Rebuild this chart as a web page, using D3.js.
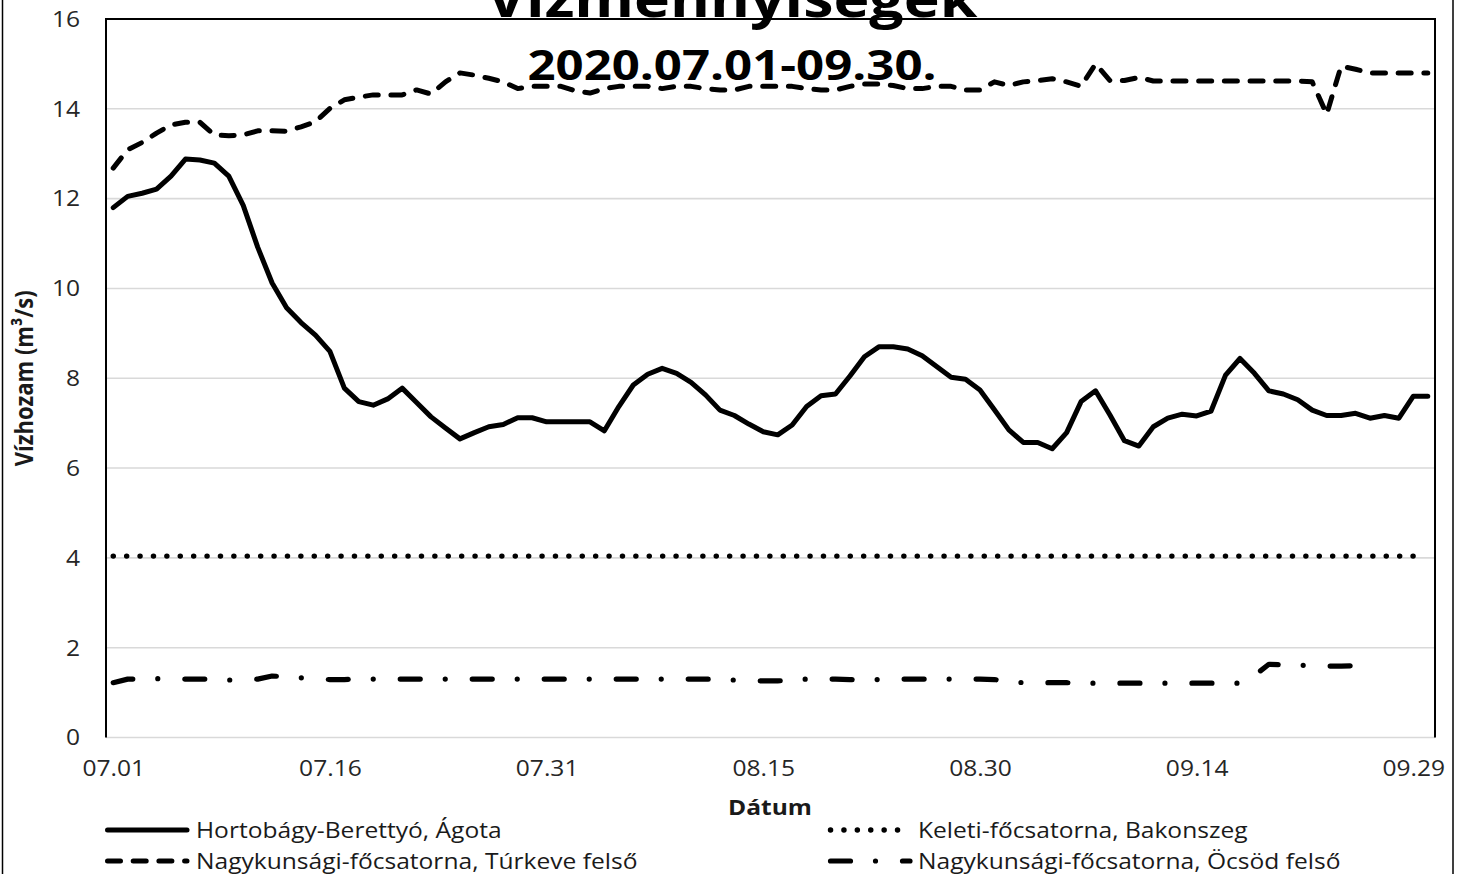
<!DOCTYPE html>
<html lang="hu">
<head>
<meta charset="UTF-8">
<script src="https://d3js.org/d3.v7.min.js"></script>
<style>
  body { margin: 0; background: #fff; }
  svg text { font-family: "Open Sans", sans-serif; }
</style>
</head>
<body>
<div id="chart"></div>
<script>
// ---- data ----
var tickLabels = ["07.01", "07.16", "07.31", "08.15", "08.30", "09.14", "09.29"];
var yTicks = [0, 2, 4, 6, 8, 10, 12, 14, 16];
var seriesNames = [
  "Hortobágy-Berettyó, Ágota",
  "Keleti-főcsatorna, Bakonszeg",
  "Nagykunsági-főcsatorna, Túrkeve felső",
  "Nagykunsági-főcsatorna, Öcsöd felső"
];

// Hortobágy-Berettyó, Ágota
var agota = [11.8, 12.05, 12.12, 12.21, 12.5, 12.88, 12.86, 12.79, 12.5, 11.85,
  10.92, 10.12, 9.57, 9.24, 8.96, 8.6, 7.78, 7.48, 7.4, 7.54,
  7.78, 7.46, 7.14, 6.89, 6.65, 6.79, 6.92, 6.97, 7.12, 7.12,
  7.03, 7.03, 7.03, 7.03, 6.83, 7.37, 7.85, 8.09, 8.22, 8.11,
  7.91, 7.63, 7.29, 7.17, 6.98, 6.81, 6.74, 6.96, 7.37, 7.61,
  7.65, 8.05, 8.48, 8.7, 8.7, 8.65, 8.5, 8.26, 8.02, 7.98,
  7.74, 7.3, 6.85, 6.57, 6.57, 6.43, 6.79, 7.48, 7.72, 7.18,
  6.61, 6.49, 6.92, 7.11, 7.2, 7.16, 7.27, 8.07, 8.44, 8.11,
  7.72, 7.65, 7.52, 7.29, 7.17, 7.17, 7.22, 7.11, 7.17, 7.11,
  7.6, 7.6];

// Keleti-főcsatorna, Bakonszeg
var bakonszeg = [4.04, 4.04, 4.04, 4.04, 4.04, 4.04, 4.04, 4.04, 4.04, 4.04,
  4.04, 4.04, 4.04, 4.04, 4.04, 4.04, 4.04, 4.04, 4.04, 4.04,
  4.04, 4.04, 4.04, 4.04, 4.04, 4.04, 4.04, 4.04, 4.04, 4.04,
  4.04, 4.04, 4.04, 4.04, 4.04, 4.04, 4.04, 4.04, 4.04, 4.04,
  4.04, 4.04, 4.04, 4.04, 4.04, 4.04, 4.04, 4.04, 4.04, 4.04,
  4.04, 4.04, 4.04, 4.04, 4.04, 4.04, 4.04, 4.04, 4.04, 4.04,
  4.04, 4.04, 4.04, 4.04, 4.04, 4.04, 4.04, 4.04, 4.04, 4.04,
  4.04, 4.04, 4.04, 4.04, 4.04, 4.04, 4.04, 4.04, 4.04, 4.04,
  4.04, 4.04, 4.04, 4.04, 4.04, 4.04, 4.04, 4.04, 4.04, 4.04,
  4.04, null];

// Nagykunsági-főcsatorna, Túrkeve felső
var turkeve = [12.68, 13.09, 13.25, 13.46, 13.64, 13.7, 13.7, 13.42, 13.4, 13.42,
  13.51, 13.51, 13.5, 13.6, 13.71, 14.01, 14.2, 14.26, 14.31, 14.31,
  14.31, 14.42, 14.33, 14.6, 14.8, 14.75, 14.68, 14.6, 14.45, 14.5,
  14.5, 14.5, 14.4, 14.35, 14.45, 14.5, 14.5, 14.5, 14.45, 14.5,
  14.5, 14.45, 14.42, 14.42, 14.5, 14.5, 14.5, 14.5, 14.45, 14.42,
  14.42, 14.5, 14.55, 14.55, 14.52, 14.45, 14.45, 14.5, 14.5, 14.42,
  14.42, 14.6, 14.52, 14.6, 14.63, 14.67, 14.6, 14.5, 15.0, 14.63,
  14.63, 14.7, 14.62, 14.62, 14.62, 14.62, 14.62, 14.62, 14.62, 14.62,
  14.62, 14.62, 14.62, 14.6, 13.88, 14.95, 14.88, 14.8, 14.8, 14.8,
  14.8, 14.8];

// Nagykunsági-főcsatorna, Öcsöd felső
var ocsod = [1.22, 1.3, 1.3, 1.31, 1.31, 1.3, 1.3, 1.3, 1.28, 1.28,
  1.3, 1.37, 1.35, 1.33, 1.3, 1.29, 1.29, 1.3, 1.3, 1.3,
  1.3, 1.3, 1.3, 1.3, 1.3, 1.3, 1.3, 1.3, 1.3, 1.3,
  1.3, 1.3, 1.3, 1.3, 1.3, 1.3, 1.3, 1.3, 1.3, 1.3,
  1.3, 1.3, 1.29, 1.28, 1.27, 1.26, 1.26, 1.28, 1.3, 1.3,
  1.3, 1.29, 1.28, 1.29, 1.3, 1.3, 1.3, 1.3, 1.3, 1.3,
  1.3, 1.29, 1.25, 1.22, 1.22, 1.22, 1.22, 1.21, 1.21, 1.21,
  1.21, 1.21, 1.21, 1.21, 1.21, 1.21, 1.21, 1.21, 1.21, 1.38,
  1.63, 1.62, 1.61, 1.6, 1.59, 1.59, 1.6, 1.62, null, null,
  null, null];

//++++++++++++++++++++++++++++++++++++++++++++++++++++++++++++++++
var W = 1462, H = 874;
var STRETCH = 1.17;   // the picture is a bit wider than tall
var plot = {left: 106, right: 1435, top: 19, bottom: 737.5};

var fmt = d3.timeFormat("%m.%d");
var days = d3.timeDay.range(new Date(2020, 6, 1), new Date(2020, 9, 1)).map(fmt);

var styles = [
  {data: agota,     dash: null,          width: 5},
  {data: bakonszeg, dash: "0.1,13.3",    width: 5.4},
  {data: turkeve,   dash: "13,12.7",     width: 5},
  {data: ocsod,     dash: "20,25,0,27",  width: 5.2}
];

var svg = d3.select("#chart").append("svg")
  .attr("width", W).attr("height", H);

function stretch(sel) {
  sel.each(function() {
    var w = this.getComputedTextLength();
    this.setAttribute("textLength", w * STRETCH);
    this.setAttribute("lengthAdjust", "spacingAndGlyphs");
  });
}

var x = d3.scalePoint().domain(days).range([plot.left, plot.right]).padding(0.5);
var y = d3.scaleLinear().domain([0, 16]).range([plot.bottom, plot.top]);

// grid
svg.append("g").selectAll("line").data(yTicks).enter().append("line")
  .attr("x1", plot.left).attr("x2", plot.right)
  .attr("y1", function(d) { return y(d); }).attr("y2", function(d) { return y(d); })
  .attr("stroke", "#d9d9d9").attr("stroke-width", 1.6);

// y axis labels
var yAxis = svg.append("g")
  .attr("transform", "translate(" + plot.left + ",0)")
  .call(d3.axisLeft(y).tickValues(yTicks).tickSize(0).tickPadding(26));
yAxis.select(".domain").remove();
yAxis.selectAll("text")
  .style("font-size", "21px").attr("fill", "#262626").attr("dy", "0.35em");
stretch(yAxis.selectAll("text"));

// x axis labels
var xAxis = svg.append("g")
  .attr("transform", "translate(0," + plot.bottom + ")")
  .call(d3.axisBottom(x).tickValues(tickLabels).tickSize(0).tickPadding(24));
xAxis.select(".domain").remove();
xAxis.selectAll("text")
  .style("font-size", "21px").attr("fill", "#262626");
stretch(xAxis.selectAll("text"));

// series
var line = d3.line()
  .defined(function(d) { return d != null; })
  .x(function(d, i) { return x(days[i]); })
  .y(function(d) { return y(d); });

styles.forEach(function(s) {
  svg.append("path")
    .attr("d", line(s.data))
    .attr("fill", "none")
    .attr("stroke", "#000")
    .attr("stroke-width", s.width)
    .attr("stroke-linecap", "round")
    .attr("stroke-linejoin", "round")
    .attr("stroke-dasharray", s.dash);
});

// plot frame (top, left, right)
svg.append("path")
  .attr("d", "M" + plot.left + "," + plot.bottom + "V" + plot.top + "H" + plot.right + "V" + plot.bottom)
  .attr("fill", "none").attr("stroke", "#000").attr("stroke-width", 2);

// outer frame
svg.append("rect")
  .attr("x", 2.5).attr("y", -10).attr("width", 1450.5).attr("height", H + 20)
  .attr("fill", "none").attr("stroke", "#000").attr("stroke-width", 1.5);

// titles (the main title is cropped at the top edge, as in the picture)
var t1 = svg.append("text").attr("x", 732).attr("y", 17)
  .attr("text-anchor", "middle").style("font-size", "52px").style("font-weight", "bold")
  .text("Vízmennyiségek");
var t2 = svg.append("text").attr("x", 732).attr("y", 80)
  .attr("text-anchor", "middle").style("font-size", "42px").style("font-weight", "bold")
  .text("2020.07.01-09.30.");
stretch(t1); stretch(t2);

// axis titles
svg.append("text")
  .attr("transform", "translate(33," + ((plot.top + plot.bottom) / 2) + ") scale(" + STRETCH + ",1) rotate(-90)")
  .attr("text-anchor", "middle").style("font-size", "22px").style("font-weight", "bold")
  .attr("fill", "#1a1a1a")
  .text("Vízhozam (m³/s)");

var xt = svg.append("text").attr("x", 770).attr("y", 815)
  .attr("text-anchor", "middle").style("font-size", "21px").style("font-weight", "bold")
  .attr("fill", "#1a1a1a").text("Dátum");
stretch(xt);

// legend
var legendPos = [
  {x: 105, y: 830}, {x: 828, y: 830},
  {x: 105, y: 861}, {x: 828, y: 861}
];
styles.forEach(function(s, i) {
  var p = legendPos[i];
  svg.append("line")
    .attr("x1", p.x + 2.5).attr("x2", p.x + 82)
    .attr("y1", p.y).attr("y2", p.y)
    .attr("stroke", "#000").attr("stroke-width", s.width)
    .attr("stroke-linecap", "round")
    .attr("stroke-dasharray", s.dash);
  var t = svg.append("text")
    .attr("x", p.x + (i % 2 === 0 ? 91 : 90)).attr("y", p.y + 7.5)
    .style("font-size", "21px").attr("fill", "#1a1a1a")
    .text(seriesNames[i]);
  stretch(t);
});
</script>
</body>
</html>
